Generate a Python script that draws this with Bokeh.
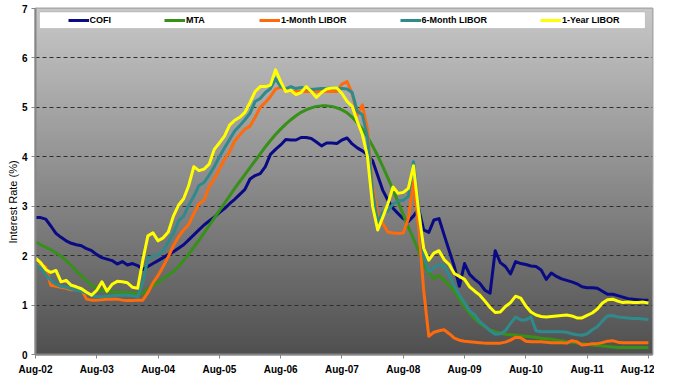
import numpy as np
from bokeh.plotting import figure
from bokeh.models import Range1d, FixedTicker, Legend, LegendItem, Title, BoxAnnotation
from bokeh.embed import file_html
from bokeh.resources import INLINE

# ---------------- data (monthly, Aug-02 .. Aug-12) ----------------
tick_labels = ["Aug-02", "Aug-03", "Aug-04", "Aug-05", "Aug-06", "Aug-07",
               "Aug-08", "Aug-09", "Aug-10", "Aug-11", "Aug-12"]
tick_months = [0, 12, 24, 36, 48, 60, 72, 84, 96, 108, 120]
y_ticks = [0, 1, 2, 3, 4, 5, 6, 7]
months = list(range(121))

cofi = [2.77, 2.77, 2.74, 2.60, 2.45, 2.37, 2.30, 2.25, 2.22, 2.20,
        2.14, 2.10, 2.02, 1.96, 1.93, 1.90, 1.83, 1.88, 1.81, 1.84,
        1.80, 1.72, 1.78, 1.84, 1.90, 1.96, 2.02, 2.08, 2.15, 2.22,
        2.32, 2.42, 2.52, 2.62, 2.70, 2.78, 2.87, 2.95, 3.05, 3.14,
        3.24, 3.34, 3.55, 3.62, 3.66, 3.80, 4.05, 4.15, 4.24, 4.35,
        4.34, 4.34, 4.39, 4.39, 4.37, 4.30, 4.22, 4.28, 4.28, 4.27,
        4.34, 4.38, 4.26, 4.18, 4.12, 4.04, 3.92, 3.62, 3.32, 3.12,
        2.96, 2.85, 2.75, 2.69, 2.80, 2.95, 2.52, 2.47, 2.72, 2.75,
        2.42, 2.10, 1.78, 1.38, 1.84, 1.62, 1.52, 1.44, 1.30, 1.24,
        2.10, 1.86, 1.78, 1.63, 1.88, 1.84, 1.82, 1.79, 1.78, 1.71,
        1.52, 1.65, 1.58, 1.53, 1.50, 1.47, 1.43, 1.37, 1.35, 1.35,
        1.34, 1.28, 1.22, 1.22, 1.19, 1.16, 1.13, 1.12, 1.11, 1.10,
        1.10]

mta = [2.28, 2.22, 2.17, 2.12, 2.06, 1.99, 1.90, 1.80, 1.69, 1.59,
       1.49, 1.40, 1.33, 1.29, 1.28, 1.27, 1.27, 1.26, 1.25, 1.24,
       1.22, 1.24, 1.32, 1.39, 1.46, 1.53, 1.60, 1.68, 1.78, 1.90,
       2.03, 2.17, 2.31, 2.46, 2.61, 2.76, 2.91, 3.06, 3.21, 3.36,
       3.50, 3.64, 3.78, 3.92, 4.06, 4.20, 4.33, 4.45, 4.56, 4.66,
       4.75, 4.83, 4.90, 4.95, 4.99, 5.02, 5.03, 5.03, 5.02, 4.99,
       4.95, 4.89, 4.80, 4.69, 4.56, 4.40, 4.22, 4.02, 3.80, 3.57,
       3.33, 3.08, 2.83, 2.58, 2.34, 2.10, 1.82, 1.64, 1.54, 1.60,
       1.50, 1.40, 1.28, 1.12, 0.97, 0.84, 0.72, 0.63, 0.56, 0.50,
       0.46, 0.43, 0.41, 0.40, 0.39, 0.38, 0.37, 0.36, 0.35, 0.33,
       0.32, 0.31, 0.29, 0.28, 0.26, 0.25, 0.23, 0.22, 0.21, 0.19,
       0.18, 0.17, 0.16, 0.15, 0.14, 0.14, 0.14, 0.14, 0.14, 0.14,
       0.14]

libor_1m = [1.80, 1.81, 1.77, 1.40, 1.38, 1.36, 1.34, 1.31, 1.31, 1.31,
            1.12, 1.10, 1.10, 1.11, 1.12, 1.12, 1.12, 1.10, 1.09, 1.09,
            1.10, 1.10, 1.25, 1.45, 1.60, 1.78, 1.98, 2.20, 2.38, 2.52,
            2.63, 2.85, 3.05, 3.12, 3.40, 3.55, 3.75, 3.95, 4.10, 4.32,
            4.44, 4.56, 4.62, 4.80, 5.00, 5.10, 5.22, 5.37, 5.41, 5.35,
            5.32, 5.32, 5.32, 5.32, 5.32, 5.32, 5.32, 5.32, 5.32, 5.32,
            5.47, 5.52, 5.28, 4.85, 5.05, 4.55, 3.40, 2.85, 2.65, 2.48,
            2.46, 2.45, 2.46, 2.75, 3.50, 2.60, 1.30, 0.37, 0.45, 0.48,
            0.50, 0.42, 0.33, 0.29, 0.27, 0.26, 0.25, 0.24, 0.23, 0.23,
            0.23, 0.23, 0.25, 0.29, 0.35, 0.34, 0.27, 0.26, 0.26, 0.26,
            0.25, 0.24, 0.24, 0.24, 0.23, 0.28, 0.26, 0.19, 0.20, 0.22,
            0.22, 0.24, 0.27, 0.28, 0.25, 0.24, 0.24, 0.24, 0.24, 0.24,
            0.24]

libor_6m = [1.82, 1.75, 1.62, 1.50, 1.42, 1.38, 1.36, 1.33, 1.30, 1.28,
            1.24, 1.19, 1.17, 1.17, 1.18, 1.19, 1.20, 1.20, 1.20, 1.19,
            1.17, 1.45, 1.95, 1.99, 2.01, 2.10, 2.28, 2.45, 2.70, 2.80,
            3.02, 3.20, 3.42, 3.48, 3.63, 3.80, 4.00, 4.18, 4.35, 4.52,
            4.63, 4.75, 4.88, 5.12, 5.18, 5.30, 5.38, 5.58, 5.42, 5.38,
            5.42, 5.38, 5.40, 5.38, 5.36, 5.37, 5.38, 5.38, 5.39, 5.38,
            5.38, 5.37, 5.30, 4.92, 4.85, 4.40, 3.30, 2.68, 2.88, 2.90,
            3.05, 3.10, 3.12, 3.20, 3.90, 3.00, 2.00, 1.68, 1.75, 1.82,
            1.78, 1.60, 1.38, 1.20, 1.05, 0.88, 0.80, 0.66, 0.58, 0.48,
            0.41, 0.42, 0.48, 0.63, 0.76, 0.70, 0.70, 0.76, 0.48, 0.46,
            0.46, 0.46, 0.46, 0.46, 0.45, 0.42, 0.40, 0.39, 0.42, 0.50,
            0.56, 0.68, 0.78, 0.79, 0.76, 0.75, 0.74, 0.73, 0.73, 0.72,
            0.71]

libor_1y = [1.95, 1.86, 1.72, 1.66, 1.70, 1.47, 1.50, 1.40, 1.37, 1.33,
            1.26, 1.20, 1.30, 1.47, 1.28, 1.42, 1.48, 1.47, 1.45, 1.36,
            1.34, 1.90, 2.40, 2.46, 2.30, 2.36, 2.48, 2.80, 3.02, 3.15,
            3.42, 3.80, 3.72, 3.75, 3.85, 4.15, 4.28, 4.42, 4.64, 4.74,
            4.80, 4.90, 5.10, 5.32, 5.42, 5.42, 5.45, 5.76, 5.52, 5.32,
            5.34, 5.26, 5.30, 5.42, 5.32, 5.20, 5.30, 5.37, 5.39, 5.39,
            5.28, 5.12, 5.02, 4.72, 4.45, 4.00, 3.00, 2.52, 2.78, 3.05,
            3.39, 3.26, 3.28, 3.36, 3.82, 2.90, 2.15, 1.91, 2.05, 2.10,
            1.92, 1.82, 1.64, 1.58, 1.52, 1.37, 1.28, 1.20, 1.08, 0.95,
            0.85, 0.86, 0.97, 1.05, 1.18, 1.14, 0.98, 0.86, 0.80, 0.77,
            0.76, 0.77, 0.78, 0.79, 0.80, 0.78, 0.74, 0.74, 0.79, 0.84,
            0.92, 1.04, 1.11, 1.12, 1.08, 1.05, 1.06, 1.05, 1.05, 1.06,
            1.04]

series_names = ["COFI", "MTA", "1-Month LIBOR", "6-Month LIBOR", "1-Year LIBOR"]
series_values = [cofi, mta, libor_1m, libor_6m, libor_1y]
series_colors = ["#0a0a85", "#379017", "#ff6a0a", "#2f8a8c", "#ffff00"]

# ---------------- figure ----------------
X_END = 120.8
p = figure(width=654, height=378, output_backend="svg", toolbar_location=None,
           x_range=Range1d(0, X_END), y_range=Range1d(0, 7),
           min_border_left=35, min_border_right=2, min_border_top=8,
           min_border_bottom=24)
p.border_fill_color = "white"
p.outline_line_color = "#a3a3a3"
p.outline_line_width = 2

# vertical gray gradient in the plot area (light at top, dark at bottom)
n_rows = 256
levels = np.linspace(80, 200, n_rows).astype(np.uint8)
img = np.empty((n_rows, 1), dtype=np.uint32)
view = img.view(dtype=np.uint8).reshape((n_rows, 1, 4))
view[:, 0, 0] = levels
view[:, 0, 1] = levels
view[:, 0, 2] = levels
view[:, 0, 3] = 255
p.image_rgba(image=[img], x=p.x_range.start, y=p.y_range.start,
             dw=p.x_range.end - p.x_range.start,
             dh=p.y_range.end - p.y_range.start, level="image")

# grid
p.xgrid.visible = False
p.ygrid.ticker = FixedTicker(ticks=y_ticks)
p.ygrid.grid_line_color = "#2e2e2e"
p.ygrid.grid_line_dash = "4 3"
p.ygrid.grid_line_width = 1

# axes
p.xaxis.ticker = FixedTicker(ticks=tick_months)
p.xaxis.major_label_overrides = {m: lab for m, lab in zip(tick_months, tick_labels)}
p.yaxis.ticker = FixedTicker(ticks=y_ticks)
for ax in (p.xaxis[0], p.yaxis[0]):
    ax.axis_line_color = "#858585"
    ax.axis_line_width = 2
    ax.major_tick_line_color = "#858585"
    ax.major_tick_line_width = 1
    ax.major_tick_out = 4
    ax.major_tick_in = 0
    ax.minor_tick_line_color = None
    ax.major_label_text_font = "Liberation Sans"
    ax.major_label_text_font_style = "bold"
    ax.major_label_text_font_size = "10px"
    ax.major_label_text_color = "black"
p.xaxis.major_label_standoff = 5
p.yaxis.major_label_standoff = 4

p.add_layout(Title(text="Interest Rate  (%)", align="left", offset=111,
                   text_font="Liberation Sans", text_font_style="normal",
                   text_font_size="11px", text_color="black", standoff=0), "left")

# series
items = []
for name, vals, color in zip(series_names, series_values, series_colors):
    r = p.line(months, vals, line_color=color, line_width=3, line_join="round")
    items.append(LegendItem(label=name, renderers=[r]))

# legend box + legend
p.add_layout(BoxAnnotation(left=0.78, right=119.4, top=6.929, bottom=6.595,
                           fill_color="white", fill_alpha=1,
                           line_color="#8c8c8c", line_width=1))
legend = Legend(items=items, orientation="horizontal", location="top_center",
                margin=6, padding=0, spacing=53, glyph_width=21, glyph_height=12,
                label_height=12, label_standoff=1,
                label_text_font="Liberation Sans", label_text_font_style="bold",
                label_text_font_size="9px", label_text_color="black",
                border_line_alpha=0, background_fill_alpha=0)
p.add_layout(legend)

open("out.html", "w").write(file_html(p, INLINE))
